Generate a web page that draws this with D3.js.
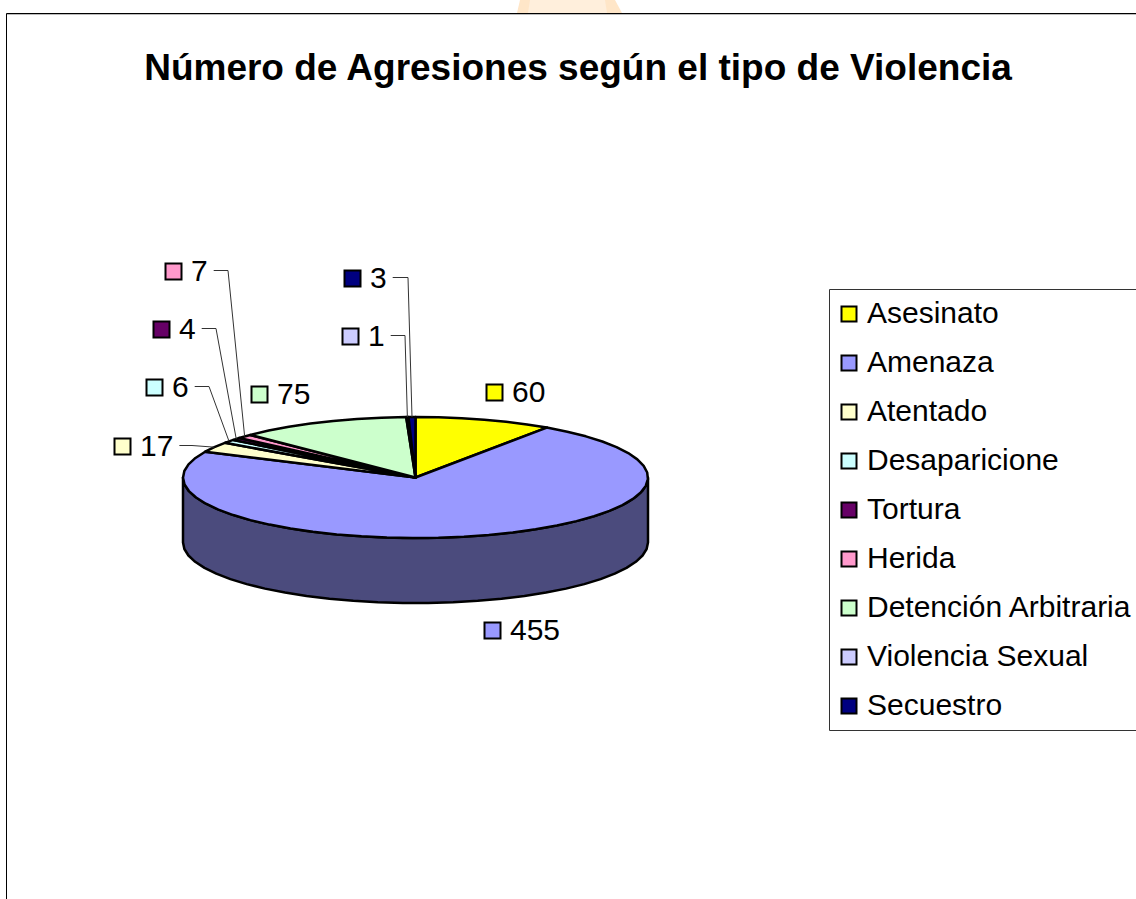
<!DOCTYPE html>
<html>
<head>
<meta charset="utf-8">
<script src="https://cdn.jsdelivr.net/npm/d3@7"></script>
<style>
    html, body { margin: 0; padding: 0; background: #fff; }
    svg { display: block; }
    text { font-family: "Liberation Sans", Arial, sans-serif; fill: #000; }
</style>
</head>
<body>
<svg id="canvas" width="1136" height="899"></svg>
<script>
var titleText = 'Número de Agresiones según el tipo de Violencia';
var categories = ['Asesinato', 'Amenaza', 'Atentado', 'Desaparicione', 'Tortura', 'Herida',
    'Detención Arbitraria', 'Violencia Sexual', 'Secuestro'];
var counts = [60, 455, 17, 6, 4, 7, 75, 1, 3];
var colors = ['#ffff00', '#9999ff', '#ffffcc', '#ccffff', '#660066', '#ff99cc', '#ccffcc', '#ccccff', '#000080'];

// hand placed data labels: swatch left/top, and the elbow of the leader line if it has one
var labelX = [486, 484, 114, 146, 153, 165, 251, 342, 344];
var labelY = [384, 622, 438, 379, 321, 263, 386, 328, 270];
var elbowX = [null, null, 192, 209, 216, 228, null, 405, 408];

var svg = d3.select('#canvas');

var cx = d3.scaleLinear().domain([-1, 1]).range([183, 648]),
    cy = d3.scaleLinear().domain([-1, 1]).range([538, 417]),
    depth = 65;

var line = d3.line();

var arcs = d3.pie().sort(null).value(function(d) { return d; })(counts);

var rim = function(a) {
    return [cx(Math.sin(a)), cy(Math.cos(a))];
};

// points along the rim between two angles, kept coarse so the edge looks faceted
var rimPoints = function(a0, a1) {
    var n = Math.max(2, Math.ceil((a1 - a0) * 9));
    return d3.range(n + 1).map(function(i) {
        return rim(a0 + (a1 - a0) * i / n);
    });
};

// watermark peeking over the top of the chart
svg.append('path')
    .attr('d', line([[520, 0], [615, 0], [622, 13], [517, 13]]))
    .attr('fill', '#ffe6c8');
svg.append('path')
    .attr('d', line([[530, 0], [605, 0], [607, 13], [528, 13]]))
    .attr('fill', '#ffefdc');

// chart frame
svg.append('path')
    .attr('d', 'M6.5,899 V13.5 H1136')
    .attr('fill', 'none')
    .attr('stroke', '#000')
    .attr('stroke-width', 1);
svg.append('path')
    .attr('d', 'M7,14.5 H1136')
    .attr('stroke', '#bbb')
    .attr('stroke-width', 1);

svg.append('text')
    .attr('x', 578)
    .attr('y', 80)
    .attr('text-anchor', 'middle')
    .attr('font-size', 37)
    .attr('font-weight', 'bold')
    .text(titleText);

// side wall, only the front half of the rim shows
var pie = svg.append('g').attr('class', 'pie');

arcs.forEach(function(d, i) {
    var a0 = Math.max(d.startAngle, Math.PI / 2),
        a1 = Math.min(d.endAngle, Math.PI * 3 / 2);
    if (a1 <= a0) return;
    var top = rimPoints(a0, a1),
        bottom = top.map(function(p) { return [p[0], p[1] + depth]; }).reverse();
    pie.append('path')
        .attr('d', line(top.concat(bottom)) + 'Z')
        .attr('fill', d3.rgb(colors[i]).darker(2))
        .attr('stroke', '#000')
        .attr('stroke-width', 2.5)
        .attr('stroke-linejoin', 'round');
});

// top face
pie.selectAll('.slice')
    .data(arcs)
    .enter().append('path')
    .attr('class', 'slice')
    .attr('d', function(d) {
        return line([[cx(0), cy(0)]].concat(rimPoints(d.startAngle, d.endAngle))) + 'Z';
    })
    .attr('fill', function(d, i) { return colors[i]; })
    .attr('stroke', '#000')
    .attr('stroke-width', 2.5)
    .attr('stroke-linejoin', 'round');

// data labels, with a leader line starting just after the number
var labels = svg.append('g').attr('class', 'labels');

arcs.forEach(function(d, i) {
    labels.append('rect')
        .attr('x', labelX[i] + 0.5)
        .attr('y', labelY[i] + 0.5)
        .attr('width', 16)
        .attr('height', 16)
        .attr('fill', colors[i])
        .attr('stroke', '#000')
        .attr('stroke-width', 2);
    var t = labels.append('text')
        .attr('x', labelX[i] + 26)
        .attr('y', labelY[i] + 18)
        .attr('font-size', 30)
        .text(d.value);
    if (elbowX[i] === null) return;
    var end = rim((d.startAngle + d.endAngle) / 2),
        y = labelY[i] + 7.5,
        x0 = labelX[i] + 26 + t.node().getComputedTextLength() + 6;
    labels.append('path')
        .attr('d', line([[x0, y], [elbowX[i], y], end]))
        .attr('fill', 'none')
        .attr('stroke', '#333')
        .attr('stroke-width', 1);
});

// legend
var row = d3.scalePoint().domain(categories).range([313, 705]);

var legend = svg.append('g').attr('class', 'legend');

legend.append('path')
    .attr('d', 'M1136,289.5 H829.5 V730.5 H1136')
    .attr('fill', '#fff')
    .attr('stroke', '#333')
    .attr('stroke-width', 1);

categories.forEach(function(name, i) {
    legend.append('rect')
        .attr('x', 841.5)
        .attr('y', row(name) - 6.5)
        .attr('width', 15)
        .attr('height', 15)
        .attr('fill', colors[i])
        .attr('stroke', '#000')
        .attr('stroke-width', 2);
    legend.append('text')
        .attr('x', 867)
        .attr('y', row(name) + 10)
        .attr('font-size', 30)
        .text(name);
});
</script>
</body>
</html>
